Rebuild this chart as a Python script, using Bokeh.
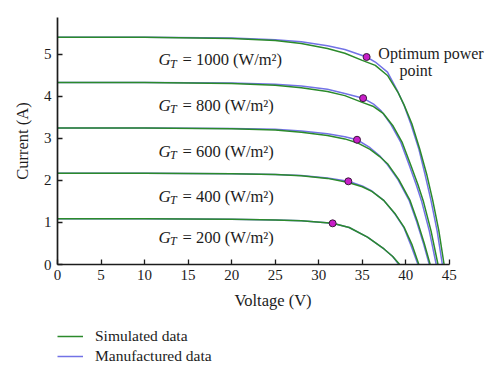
from bokeh.plotting import figure
from bokeh.models import Range1d, FixedTicker, Legend, LegendItem
from bokeh.layouts import column
from bokeh.core.properties import value
from bokeh.embed import file_html
from bokeh.resources import INLINE

# ---------------- data ----------------
irradiance = ["1000", "800", "600", "400", "200"]

sim_v_1000 = [0, 10, 20, 25, 28, 31, 33, 35, 36.5, 37.9, 39.1, 39.8, 40.7, 41.6, 42.4, 43.1, 43.8, 44.4]
sim_i_1000 = [5.41, 5.41, 5.38, 5.33, 5.26, 5.14, 5.03, 4.86, 4.74, 4.50, 4.10, 3.80, 3.35, 2.75, 2.15, 1.52, 0.80, 0]
man_v_1000 = [0, 10, 20, 25, 28, 31, 33, 35.5, 36.5, 37.9, 39.0, 39.8, 40.6, 41.5, 42.2, 42.9, 43.6, 44.2]
man_i_1000 = [5.41, 5.41, 5.39, 5.35, 5.30, 5.21, 5.12, 4.94, 4.82, 4.58, 4.15, 3.79, 3.33, 2.75, 2.15, 1.52, 0.80, 0]

sim_v_800 = [0, 10, 20, 25, 28, 31, 33, 35, 36.3, 37.4, 38.5, 39.6, 40.6, 41.4, 42.0, 42.9, 43.7]
sim_i_800 = [4.33, 4.33, 4.31, 4.27, 4.21, 4.12, 4.02, 3.86, 3.76, 3.60, 3.31, 2.90, 2.35, 1.90, 1.52, 0.80, 0]
man_v_800 = [0, 10, 20, 25, 28, 31, 33, 35.1, 36.3, 37.2, 38.3, 39.4, 40.4, 41.2, 41.8, 42.7, 43.5]
man_i_800 = [4.33, 4.33, 4.32, 4.29, 4.25, 4.17, 4.07, 3.96, 3.82, 3.65, 3.33, 2.92, 2.36, 1.90, 1.52, 0.80, 0]

sim_v_600 = [0, 10, 20, 25, 28, 31, 33, 34.4, 35.9, 37.0, 37.9, 39.2, 40.5, 41.3, 42.1, 42.8]
sim_i_600 = [3.25, 3.25, 3.23, 3.20, 3.15, 3.07, 2.99, 2.90, 2.74, 2.57, 2.40, 2.02, 1.52, 1.05, 0.52, 0]
man_v_600 = [0, 10, 20, 25, 28, 31, 33, 34.4, 35.9, 37.0, 37.8, 39.1, 40.4, 41.2, 42.0, 42.7]
man_i_600 = [3.25, 3.25, 3.24, 3.22, 3.18, 3.11, 3.04, 2.97, 2.78, 2.59, 2.40, 2.02, 1.52, 1.05, 0.52, 0]

sim_v_400 = [0, 10, 20, 25, 28, 31, 33.4, 35, 36.1, 37.5, 38.8, 39.8, 40.7, 41.5]
sim_i_400 = [2.17, 2.17, 2.16, 2.14, 2.11, 2.05, 1.95, 1.85, 1.74, 1.52, 1.20, 0.89, 0.48, 0]
man_v_400 = [0, 10, 20, 25, 28, 31, 33.4, 35, 36.1, 37.5, 38.8, 39.8, 40.6, 41.4]
man_i_400 = [2.17, 2.17, 2.16, 2.14, 2.12, 2.06, 1.98, 1.87, 1.75, 1.52, 1.19, 0.87, 0.45, 0]

sim_v_200 = [0, 10, 20, 25, 28, 31.6, 33.5, 35.6, 37.5, 38.5, 39.3]
sim_i_200 = [1.09, 1.09, 1.08, 1.06, 1.04, 0.98, 0.88, 0.65, 0.37, 0.19, 0]
man_v_200 = [0, 10, 20, 25, 28, 31.6, 33.5, 35.6, 37.5, 38.5, 39.2]
man_i_200 = [1.09, 1.09, 1.08, 1.06, 1.04, 0.98, 0.88, 0.65, 0.37, 0.19, 0]

mpp_v = [35.5, 35.1, 34.4, 33.4, 31.6]
mpp_i = [4.94, 3.96, 2.97, 1.98, 0.98]

label_x = [11.6, 11.6, 11.6, 11.6, 11.6]
label_y = [4.87, 3.79, 2.70, 1.62, 0.65]

x_ticks = [0, 5, 10, 15, 20, 25, 30, 35, 40, 45]
y_ticks = [0, 1, 2, 3, 4, 5]

series_names = ["Simulated data", "Manufactured data"]

sim_curves = [(sim_v_1000, sim_i_1000), (sim_v_800, sim_i_800), (sim_v_600, sim_i_600),
              (sim_v_400, sim_i_400), (sim_v_200, sim_i_200)]
man_curves = [(man_v_1000, man_i_1000), (man_v_800, man_i_800), (man_v_600, man_i_600),
              (man_v_400, man_i_400), (man_v_200, man_i_200)]

# ---------------- styling ----------------
GREEN = "#2b8a2b"
BLUE = "#7272e6"
INK = "#1c1c1c"
SERIF = "Liberation Serif"

p = figure(
    frame_width=431, frame_height=247,
    x_range=Range1d(0, 49.5), y_range=Range1d(0, 5.88),
    output_backend="svg", toolbar_location=None,
    min_border_left=57, min_border_top=17, min_border_right=4, min_border_bottom=54,
    background_fill_color="white", border_fill_color="white",
)
p.outline_line_color = None
p.xgrid.visible = False
p.ygrid.visible = False

for ax in (p.xaxis[0], p.yaxis[0]):
    ax.axis_line_color = INK
    ax.axis_line_width = 1.7
    ax.major_tick_line_color = INK
    ax.major_tick_line_width = 1.3
    ax.major_tick_in = 5
    ax.major_tick_out = 0
    ax.minor_tick_line_color = None
    ax.major_label_text_font = SERIF
    ax.major_label_text_font_size = "15px"
    ax.major_label_text_color = INK
    ax.axis_label_text_font = SERIF
    ax.axis_label_text_font_size = "16.5px"
    ax.axis_label_text_font_style = "normal"
    ax.axis_label_text_color = INK

p.xaxis[0].ticker = FixedTicker(ticks=x_ticks)
p.xaxis[0].bounds = (0, 45)
p.xaxis[0].axis_label = "Voltage (V)"
p.xaxis[0].major_label_standoff = 5
p.xaxis[0].axis_label_standoff = 8

p.yaxis[0].ticker = FixedTicker(ticks=y_ticks)
p.yaxis[0].axis_label = "Current (A)"
p.yaxis[0].major_label_standoff = 6
p.yaxis[0].axis_label_standoff = 9

for (mv, mi) in man_curves:
    p.line(mv, mi, line_color=BLUE, line_width=1.5)
for (sv, si) in sim_curves:
    p.line(sv, si, line_color=GREEN, line_width=1.5)

p.scatter(mpp_v, mpp_i, size=7, marker="circle", fill_color="#c81ec8", line_color="#3a1a3a", line_width=1)

# irradiance labels: G (italic) + subscript T (italic) + rest
rest = ["= " + g + " (W/m\u00b2)" for g in irradiance]
p.text(label_x, label_y, text=["G"] * 5, text_font=value(SERIF), text_font_style="italic",
       text_font_size="17px", text_color=INK, text_baseline="alphabetic", text_align="left")
p.text(label_x, label_y, text=["T"] * 5, text_font=value(SERIF), text_font_style="italic",
       text_font_size="12px", text_color=INK, text_baseline="alphabetic", text_align="left",
       x_offset=11.5, y_offset=4)
p.text(label_x, label_y, text=rest, text_font=value(SERIF),
       text_font_size="16.5px", text_color=INK, text_baseline="alphabetic", text_align="left",
       x_offset=24)

p.text([36.85], [5.02], text=["Optimum power"], text_font=value(SERIF), text_font_size="16px",
       text_color=INK, text_baseline="middle", text_align="left")
p.text([39.27], [4.62], text=["point"], text_font=value(SERIF), text_font_size="16px",
       text_color=INK, text_baseline="middle", text_align="left")

# ---------------- legend strip below the chart ----------------
# (its ranges are set away from the data so the proxy lines themselves stay hidden;
#  only their legend samples are drawn)
lf = figure(
    width=492, height=65, x_range=Range1d(-20, -10), y_range=Range1d(-20, -10),
    output_backend="svg", toolbar_location=None,
    x_axis_type=None, y_axis_type=None,
    min_border_left=0, min_border_right=0, min_border_top=0, min_border_bottom=0,
    background_fill_color="white", border_fill_color="white",
)
lf.outline_line_color = None
lf.xgrid.visible = False
lf.ygrid.visible = False
sim_r = lf.line(sim_v_200, sim_i_200, line_color=GREEN, line_width=1.5)
man_r = lf.line(man_v_200, man_i_200, line_color=BLUE, line_width=1.5)

legend = Legend(items=[LegendItem(label=series_names[0], renderers=[sim_r]),
                       LegendItem(label=series_names[1], renderers=[man_r])],
                location=(0, 17), orientation="vertical")
legend.border_line_color = None
legend.background_fill_alpha = 0
legend.label_text_font = SERIF
legend.label_text_font_size = "15.5px"
legend.label_text_color = INK
legend.glyph_width = 26
legend.glyph_height = 20
legend.label_height = 20
legend.label_standoff = 12
legend.spacing = 0
legend.padding = 0
legend.margin = 0
lf.add_layout(legend, "center")

layout = column(p, lf, spacing=0)
open("out.html", "w").write(file_html(layout, INLINE))
